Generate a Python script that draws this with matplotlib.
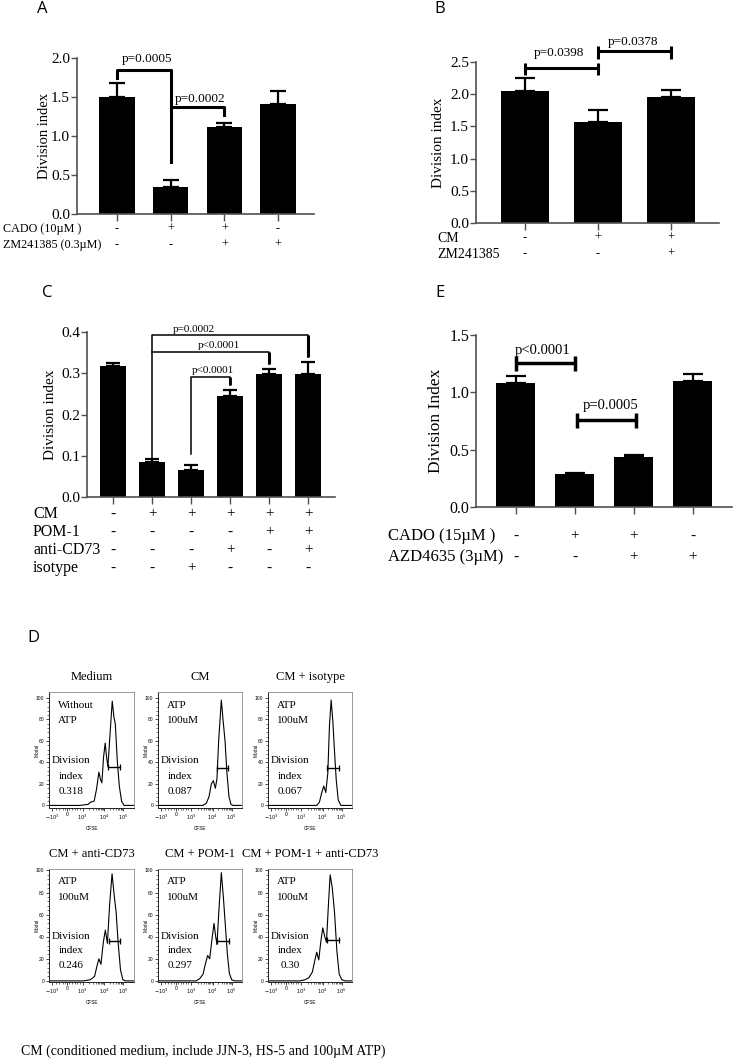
import matplotlib
matplotlib.use("Agg")
import matplotlib.pyplot as plt
from matplotlib import transforms

W, H = 733, 1061
SERIF = "Liberation Serif"
SANS = "Liberation Sans"
AXC = "#505050"

# ---- panel A ----
a_means = [1.50, 0.34, 1.11, 1.41]
a_err = [0.18, 0.09, 0.06, 0.17]
a_rows = ["CADO (10µM )", "ZM241385 (0.3µM)"]
a_signs = [["-", "+", "+", "-"], ["-", "-", "+", "+"]]

# ---- panel B ----
b_means = [2.05, 1.575, 1.95]
b_err = [0.205, 0.185, 0.11]
b_rows = ["CM", "ZM241385"]
b_signs = [["-", "+", "+"], ["-", "-", "+"]]

# ---- panel C ----
c_means = [0.317, 0.086, 0.066, 0.245, 0.297, 0.299]
c_err = [0.009, 0.007, 0.012, 0.014, 0.014, 0.028]
c_rows = ["CM", "POM-1", "anti-CD73", "isotype"]
c_signs = [list("-+++++"), list("----++"), list("---+-+"), list("--+---")]

# ---- panel E ----
e_means = [1.085, 0.285, 0.435, 1.10]
e_err = [0.06, 0.015, 0.022, 0.06]
e_rows = ["CADO (15µM )", "AZD4635 (3µM)"]
e_signs = [["-", "+", "+", "-"], ["-", "-", "+", "+"]]

# ---- panel D (flow histograms, x as fraction of the CFSE axis) ----
hist_titles = ["Medium", "CM", "CM + isotype",
               "CM + anti-CD73", "CM + POM-1", "CM + POM-1 + anti-CD73"]
hist_note1 = ["Without", "ATP", "ATP", "ATP", "ATP", "ATP"]
hist_note2 = ["ATP", "100uM", "100uM", "100uM", "100uM", "100uM"]
hist_index = ["0.318", "0.087", "0.067", "0.246", "0.297", "0.30"]

medium_x = [0, 0.362, 0.461, 0.488, 0.531, 0.559, 0.587, 0.606, 0.622, 0.642, 0.661,
            0.677, 0.693, 0.717, 0.744, 0.764, 0.780, 0.803, 0.827, 0.854, 0.882, 1.0]
medium_y = [0, 0, 1, 3, 4, 15, 31, 24, 21, 45, 58, 45, 36, 65, 97, 82, 76, 42, 18, 4, 0, 0]
cm_x = [0, 0.536, 0.575, 0.607, 0.635, 0.659, 0.683, 0.702, 0.722, 0.754, 0.774,
        0.798, 0.821, 0.845, 0.869, 0.893, 1.0]
cm_y = [0, 0, 2, 8, 20, 23, 16, 25, 60, 98, 80, 60, 30, 8, 1, 0, 0]
iso_x = [0, 0.58, 0.612, 0.64, 0.664, 0.688, 0.712, 0.732, 0.752, 0.772, 0.792,
         0.812, 0.836, 0.868, 1.0]
iso_y = [0, 0, 3, 12, 18, 12, 30, 75, 98, 78, 50, 24, 5, 0, 0]
cd73_x = [0, 0.405, 0.484, 0.536, 0.563, 0.587, 0.611, 0.639, 0.663, 0.687, 0.714,
          0.742, 0.766, 0.790, 0.813, 0.841, 0.869, 0.9, 1.0]
cd73_y = [0, 0, 1, 4, 13, 20, 15, 35, 46, 34, 70, 97, 78, 62, 35, 10, 1, 0, 0]
pom_x = [0, 0.456, 0.496, 0.536, 0.563, 0.591, 0.615, 0.643, 0.667, 0.687, 0.702,
         0.726, 0.754, 0.778, 0.802, 0.825, 0.849, 0.877, 0.913, 1.0]
pom_y = [0, 0, 2, 6, 15, 23, 20, 38, 52, 40, 33, 65, 98, 76, 50, 25, 7, 1, 0, 0]
both_x = [0, 0.38, 0.44, 0.488, 0.528, 0.556, 0.58, 0.604, 0.628, 0.652, 0.676,
          0.696, 0.72, 0.74, 0.764, 0.792, 0.82, 0.848, 0.88, 0.92, 1.0]
both_y = [0, 0, 1, 3, 8, 18, 26, 19, 35, 48, 40, 35, 70, 96, 85, 62, 27, 6, 1, 0, 0]
hist_curves = [(medium_x, medium_y), (cm_x, cm_y), (iso_x, iso_y),
               (cd73_x, cd73_y), (pom_x, pom_y), (both_x, both_y)]
gate_lo = [0.697, 0.702, 0.708, 0.702, 0.702, 0.70]
gate_hi = [0.835, 0.837, 0.84, 0.833, 0.841, 0.84]
gate_y = [36, 35, 35, 36, 36, 37]
cfse_ticks = [0.04, 0.215, 0.395, 0.65, 0.875]
cfse_labels = [r"$-10^3$", "0", r"$10^3$", r"$10^4$", r"$10^5$"]
modal_ticks = [0, 20, 40, 60, 80, 100]

caption = "CM (conditioned medium, include JJN-3, HS-5 and 100µM ATP)"

plt.rcParams["font.family"] = SERIF
fig = plt.figure(figsize=(W / 100, H / 100), dpi=100)


def place(left, right, top, bottom):
    return fig.add_axes([left / W, 1 - bottom / H, (right - left) / W, (bottom - top) / H])


def fy(y):
    return 1 - y / H


def bar_panel(box, xlim, ymax, ystep, means, err, cap, tick_fs, ylab, ylab_x, ylab_fs):
    left, right, top, bottom = box
    ax = place(left, right, top, bottom)
    x = list(range(len(means)))
    ax.bar(x, means, width=0.66, color="black")
    ax.errorbar(x, means, yerr=[[0] * len(err), err], fmt="none", ecolor="black",
                elinewidth=1.6, capsize=cap, capthick=1.6)
    ax.set_xlim(*xlim)
    ax.set_ylim(0, ymax)
    n = int(round(ymax / ystep))
    ax.set_yticks([i * ystep for i in range(n + 1)])
    ax.set_yticklabels([f"{i * ystep:.1f}" for i in range(n + 1)])
    ax.set_xticks(x)
    ax.tick_params(axis="x", length=5, width=1.0, color=AXC, labelbottom=False)
    ax.tick_params(axis="y", length=4, width=1.0, color=AXC, labelsize=tick_fs, pad=1)
    for s in ("top", "right"):
        ax.spines[s].set_visible(False)
    for s in ("left", "bottom"):
        ax.spines[s].set_color(AXC)
        ax.spines[s].set_linewidth(1.2)
    ax.text((ylab_x - left) / (right - left), 0.5, ylab, rotation=90, fontsize=ylab_fs,
            ha="center", va="center", transform=ax.transAxes)
    return ax


def rows(ax, labels, signs, label_x, ys, fs_label, fs_sign):
    tr = transforms.blended_transform_factory(ax.transData, fig.transFigure)
    for lab, row, y in zip(labels, signs, ys):
        fig.text(label_x / W, fy(y), lab, fontsize=fs_label, ha="left", va="center")
        for i, s in enumerate(row):
            ax.text(i, fy(y), s, fontsize=fs_sign, ha="center", va="center", transform=tr)


def ibracket(ax, x0, x1, y, lo, hi, lw):
    ax.plot([x0, x1], [y, y], color="black", lw=lw, clip_on=False, solid_capstyle="butt")
    for xx in (x0, x1):
        ax.plot([xx, xx], [lo, hi], color="black", lw=lw, clip_on=False, solid_capstyle="butt")


# ---------------- A ----------------
axA = bar_panel((77, 314, 58, 214), (-0.745, 3.67), 2.0, 0.5, a_means, a_err, 5.5, 11,
                "Division index", 44, 10.5)
axA.plot([0, 0, 1, 1], [1.74, 1.85, 1.85, 0.67], color="black", lw=2.2, clip_on=False)
axA.plot([1, 2, 2], [1.378, 1.378, 1.27], color="black", lw=2.2, clip_on=False)
axA.text(0.55, 1.987, "p=0.0005", fontsize=9.5, ha="center", va="center")
axA.text(1.55, 1.48, "p=0.0002", fontsize=9.5, ha="center", va="center")
rows(axA, a_rows, a_signs, 3, [229, 245], 8.7, 8.7)

# ---------------- B ----------------
axB = bar_panel((476, 719, 62, 223), (-0.67, 2.66), 2.5, 0.5, b_means, b_err, 7, 11,
                "Division index", 438, 11)
ibracket(axB, 0, 1, 2.40, 2.30, 2.48, 2.2)
ibracket(axB, 1, 2, 2.676, 2.54, 2.75, 2.2)
axB.text(0.46, 2.634, "p=0.0398", fontsize=9.5, ha="center", va="center")
axB.text(1.48, 2.805, "p=0.0378", fontsize=9.5, ha="center", va="center")
rows(axB, b_rows, b_signs, 437, [238, 254], 10, 9)

# ---------------- C ----------------
axC = bar_panel((87, 335, 332, 497), (-0.67, 5.69), 0.4, 0.1, c_means, c_err, 5, 11,
                "Division index", 50, 11)
axC.plot([1, 1, 5, 5], [0.093, 0.3935, 0.3935, 0.339], color="black", lw=1.1, clip_on=False)
axC.plot([1, 4, 4], [0.3515, 0.3515, 0.323], color="black", lw=1.1, clip_on=False)
axC.plot([2, 2, 3, 3], [0.1034, 0.291, 0.291, 0.2707], color="black", lw=1.1, clip_on=False)
axC.plot([5, 5], [0.3935, 0.339], color="black", lw=2.2, clip_on=False, solid_capstyle="butt")
axC.plot([4, 4], [0.3515, 0.323], color="black", lw=2.2, clip_on=False, solid_capstyle="butt")
axC.plot([3, 3], [0.291, 0.2707], color="black", lw=2.0, clip_on=False, solid_capstyle="butt")
axC.text(2.06, 0.4057, "p=0.0002", fontsize=8, ha="center", va="center")
axC.text(2.70, 0.368, "p<0.0001", fontsize=8, ha="center", va="center")
axC.text(2.56, 0.307, "p<0.0001", fontsize=8, ha="center", va="center")
rows(axC, c_rows, c_signs, 33, [514, 532, 550, 568], 11.5, 11)

# ---------------- E ----------------
axE = bar_panel((476, 732, 335, 507), (-0.67, 3.66), 1.5, 0.5, e_means, e_err, 7.5, 11.5,
                "Division Index", 435.5, 12.5)
ibracket(axE, 0, 1, 1.2525, 1.188, 1.317, 2.5)
ibracket(axE, 1.04, 2.03, 0.763, 0.693, 0.821, 2.5)
axE.text(0.46, 1.363, "p<0.0001", fontsize=10.5, ha="center", va="center")
axE.text(1.61, 0.885, "p=0.0005", fontsize=10.5, ha="center", va="center")
rows(axE, e_rows, e_signs, 388, [536, 557], 12, 11)

# ---------------- D ----------------
hist_cols = [(49, 134), (158, 242), (268, 352)]
hist_rows = [(692, 808, (-2.4, 105.5)), (869, 982, (-1.0, 101.3))]
minor = [0.395 + 0.255 * m for m in (0.30, 0.48, 0.60, 0.70, 0.78, 0.85, 0.90, 0.95)]
minor += [0.65 + 0.225 * m for m in (0.30, 0.48, 0.60, 0.70, 0.78, 0.85, 0.90, 0.95)]
minor += [0.08, 0.12, 0.16, 0.19, 0.24, 0.27, 0.30, 0.33, 0.36]
for k in range(6):
    top, bottom, ylim = hist_rows[k // 3]
    left, right = hist_cols[k % 3]
    ax = place(left, right, top, bottom)
    hx, hy = hist_curves[k]
    ax.plot(hx, hy, color="black", lw=0.8, solid_joinstyle="round")
    ax.plot([gate_lo[k], gate_hi[k]], [gate_y[k], gate_y[k]], color="black", lw=1.0)
    ax.plot([gate_lo[k], gate_hi[k]], [gate_y[k], gate_y[k]], ls="none", marker="|",
            ms=4, mew=0.9, color="black")
    ax.set_xlim(0, 1)
    ax.set_ylim(*ylim)
    ax.set_xticks(cfse_ticks)
    ax.set_xticklabels(cfse_labels)
    ax.set_xticks(minor, minor=True)
    ax.set_yticks(modal_ticks)
    ax.set_yticks(range(4, 100, 4), minor=True)
    ax.tick_params(which="major", length=2.2, width=0.5, labelsize=3.6, pad=1)
    ax.tick_params(which="minor", length=1.2, width=0.4)
    for lab in ax.get_xticklabels() + ax.get_yticklabels():
        lab.set_family(SANS)
    for s in ("top", "right"):
        ax.spines[s].set_color("#8a8a8a")
        ax.spines[s].set_linewidth(0.6)
    for s in ("left", "bottom"):
        ax.spines[s].set_color("#222222")
        ax.spines[s].set_linewidth(0.7)
    h = bottom - top
    ax.text(0.5, 1 + 15 / h, hist_titles[k], fontsize=9, ha="center", va="center",
            transform=ax.transAxes)
    ax.text(0.11, 0.887, hist_note1[k], fontsize=8, ha="left", va="center",
            transform=ax.transAxes)
    ax.text(0.11, 0.752, hist_note2[k], fontsize=8, ha="left", va="center",
            transform=ax.transAxes)
    for yy, t in zip((0.406, 0.275, 0.143), ("Division", "index", hist_index[k])):
        ax.text(0.26, yy, t, fontsize=8, ha="center", va="center", transform=ax.transAxes)
    ax.text(0.5, -21 / h, "CFSE", fontsize=3.4, family=SANS, ha="center", va="center",
            transform=ax.transAxes)
    ax.text(-12 / (right - left), 0.5, "Modal", fontsize=3.4, family=SANS, rotation=90,
            ha="center", va="center", transform=ax.transAxes)

# panel letters and caption
for letter, x, y in [("A", 42, 9), ("B", 440, 9), ("C", 47, 293), ("E", 440, 293), ("D", 33, 638)]:
    fig.text(x / W, fy(y), letter, family="Open Sans", fontsize=12, ha="center", va="center")
fig.text(21 / W, fy(1051), caption, fontsize=10, ha="left", va="center")

fig.savefig("out.png", dpi=100)
